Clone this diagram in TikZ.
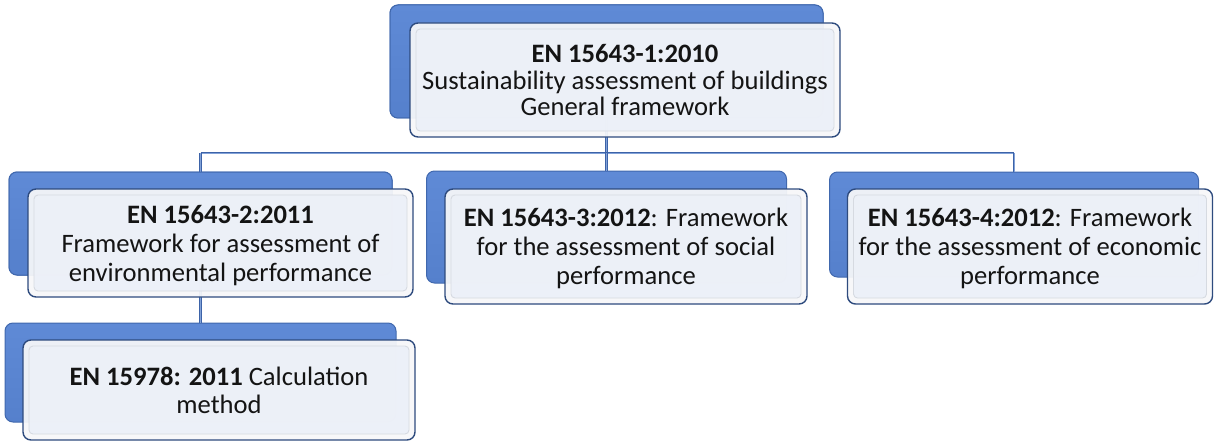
\documentclass[tikz,border=0pt]{standalone}
\usepackage{fontspec}
\setmainfont{Carlito}
\begin{document}
\begin{tikzpicture}[x=1pt,y=-1pt,
  backbox/.style={rectangle, rounded corners=8pt, draw=backedge, line width=1pt,
    top color=backtop, bottom color=backbot, inner sep=0pt},
  frontbox/.style={rectangle, rounded corners=8pt, draw=frontedge, line width=1.4pt,
    fill=frontrim, fill opacity=0.94, text opacity=1, inner sep=0pt,
    align=center, text=black!92, text depth=0pt,
    font=\fontsize{26.6pt}{29pt}\selectfont,
    path picture={\path[bevel, rounded corners=4pt]
      ([shift={(6pt,-6pt)}]path picture bounding box.north west) rectangle
      ([shift={(-6pt,6pt)}]path picture bounding box.south east);}},
  bevel/.style={draw=bevelgray, line width=0.9pt, fill=frontfill},
  conn/.style={draw=connedge, line width=0.8pt, double=connmid, double distance=1pt}]
\definecolor{backedge}{HTML}{4068AE}
\definecolor{backtop}{HTML}{5F8AD6}
\definecolor{backbot}{HTML}{5580CC}
\definecolor{frontedge}{HTML}{2E4B7E}
\definecolor{frontrim}{HTML}{F6F7F9}
\definecolor{frontfill}{HTML}{ECF0F8}
\definecolor{bevelgray}{HTML}{D6DAE1}
\definecolor{connedge}{HTML}{3D63A8}
\definecolor{connmid}{HTML}{82A2D8}
\useasboundingbox (0,0) rectangle (1214,441);

% blue back plates
\node[backbox, minimum width=433pt, minimum height=113pt] (topback) at (606.5,61.5) {};
\node[backbox, minimum width=383pt, minimum height=103pt] (lback) at (200.5,223.5) {};
\node[backbox, minimum width=360pt, minimum height=112pt] (mback) at (606.5,227) {};
\node[backbox, minimum width=369pt, minimum height=105pt] (rback) at (1014,224.5) {};
\node[backbox, minimum width=391pt, minimum height=99pt] (bback) at (200.5,372.5) {};

% hierarchy connectors
\coordinate (bus) at (0,153);
\draw[conn] (topback.center) -- (topback.center |- bus);
\draw[conn] (lback.center |- bus) -- (rback.center |- bus);
\foreach \n in {lback,mback,rback}
  \draw[conn] (\n.center |- bus) -- (\n.north);
\draw[conn] (lback.center) -- (bback.north);

% redraw plates over connector starts
\node[backbox, minimum width=433pt, minimum height=113pt] at (topback) {};
\node[backbox, minimum width=383pt, minimum height=103pt] at (lback) {};

% text cards
\node[frontbox, minimum width=430pt, minimum height=114pt,
  font=\fontsize{26.6pt}{26.5pt}\selectfont] (topfront) at (625,80)
  {\textbf{EN 15643-1:2010}\\Sustainability assessment of buildings\\General framework};
\node[frontbox, minimum width=385pt, minimum height=108pt] (lfront) at (220.5,243)
  {\textbf{EN 15643-2:2011}\\Framework for assessment of\\environmental performance};
\node[frontbox, minimum width=362pt, minimum height=115pt] (mfront) at (626,246.5)
  {\textbf{EN 15643-3:2012}: Framework\\for the assessment of social\\performance};
\node[frontbox, minimum width=365pt, minimum height=115pt] (rfront) at (1030,246.5)
  {\textbf{EN 15643-4:2012}: Framework\\for the assessment of economic\\performance};
\node[frontbox, minimum width=392pt, minimum height=100pt,
  font=\fontsize{26.6pt}{28pt}\selectfont] (bfront) at (219,390)
  {\textbf{EN 15978: 2011} Calculation\\method};
\end{tikzpicture}
\end{document}
